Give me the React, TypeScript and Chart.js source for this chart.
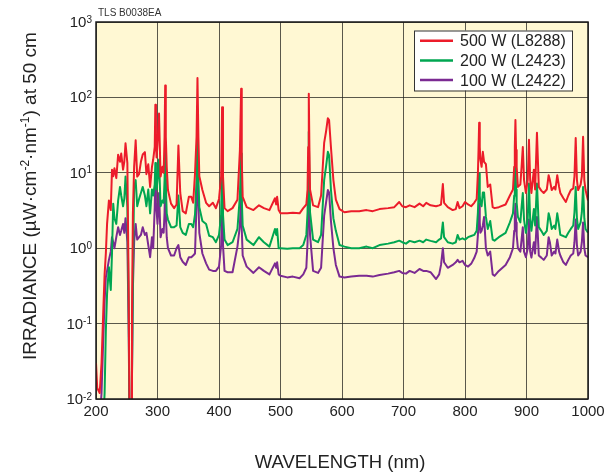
import React, { useEffect, useRef } from 'react';
import { Chart, registerables } from 'chart.js';

Chart.register(...registerables);

// ---- Data ----
const wavelengths = [
  200, 202, 206, 209, 212, 214, 216, 218, 221, 224,
  226, 228, 230, 233, 236, 239, 241, 244, 246, 248,
  251, 253, 254.5, 257, 258.5, 260, 262, 264.5, 267, 270,
  273, 276, 279.5, 282, 285, 288, 291, 293, 295.5, 296.5, 297.5, 298.5,
  300, 302.5, 305, 308, 310, 311.5, 312.5, 313.5, 315, 317, 322, 327,
  331, 334, 337, 341, 346, 351, 355, 358, 361, 363.5, 365, 366.5,
  368, 373, 379, 384, 390, 395, 400, 403.5, 405, 406.5, 409, 414,
  422, 430, 434, 436, 437, 438.5, 445, 456, 465, 473, 482,
  491, 493, 494.5, 497, 500, 511, 520, 531, 537, 542,
  544, 545, 546, 547, 548, 553, 561, 566, 571, 574, 577, 579,
  582, 586, 590, 596, 604, 615, 628, 640, 650, 661,
  675, 685, 693, 698, 704, 710, 718, 726, 732, 737,
  744, 753, 758, 761, 764, 766, 772, 780, 785, 788,
  791, 796, 800, 805, 810, 815, 819, 821, 822, 823, 824, 825,
  827, 829, 831, 834, 837, 841, 845, 848, 855, 866,
  873, 878, 880, 881, 882, 883, 884, 886, 890, 892, 894, 896,
  899, 902, 904, 906, 908, 912, 914, 917, 920, 924,
  928, 933, 936, 938, 941, 945, 947, 950, 953, 955,
  960, 964, 968, 972, 976, 978, 980, 982, 984, 988,
  990, 992, 994, 996, 1000,
];

const irr500W = [
  0.03, 0.014, 0.012, 0.03, 0.16, 0.45, 0.85, 2.1, 4.3, 3.2,
  11, 9, 11.5, 8.5, 17.4, 14, 18, 11, 14, 24.6,
  13.4, 0.37, 0.006, 0.006, 0.13, 2.9, 12, 27, 8.9, 9.6,
  14, 17.5, 18.8, 9.6, 13, 6.5, 12, 15, 22, 80, 25, 16,
  24, 61, 8.9, 12, 10, 30, 144, 30, 12, 5.9, 3.9, 3.4,
  3.8, 23, 5.4, 3.1, 2.9, 4.8, 4.8, 4.0, 9.8, 30, 181, 30,
  9, 5.9, 4.0, 3.6, 4.0, 3.4, 4.5, 9, 74, 9, 3.4, 3.1,
  3.4, 4.4, 20, 130, 16, 4.8, 3.5, 3.2, 3.7, 3.4, 3.2,
  4.6, 3.8, 4.8, 3.2, 2.9, 2.9, 2.95, 2.9, 3.4, 3.8,
  6, 22, 112, 22, 6, 3.7, 3.5, 5, 25, 35, 53, 50,
  22, 8, 4.4, 3.3, 3.0, 3.1, 3.1, 3.2, 3.1, 3.3,
  3.4, 3.5, 4.1, 3.6, 3.5, 3.7, 3.5, 3.9, 3.6, 4.0,
  3.7, 3.6, 3.7, 3.8, 7.1, 4, 3.5, 3.2, 3.3, 4.1,
  3.4, 3.6, 4.1, 3.8, 3.6, 4.0, 4.5, 10, 20, 46, 22, 15,
  12, 19, 14, 13, 6.5, 7, 3.5, 3.4, 3.5, 3.8,
  5, 6, 12, 22, 50, 20, 12, 6.5, 7, 12, 22, 8,
  5.4, 8, 27.5, 8, 5.4, 11, 6, 34, 6.5, 5.8,
  5.4, 6, 9.3, 8, 5.9, 6.5, 6, 9.3, 6.5, 5.4,
  4.6, 4.1, 5, 5.9, 6.2, 9, 29, 8, 5.9, 7,
  9, 30, 8, 5.9, 4.3,
];

const irr200W = [
  0.005, 0.005, 0.005, 0.005, 0.005, 0.012, 0.08, 0.25, 0.56, 0.28,
  0.85, 3.9, 2.5, 2.1, 4.3, 6.5, 5, 3.6, 4.5, 8.9,
  3.5, 0.2, 0.005, 0.005, 0.02, 0.5, 6.5, 8, 3.6, 4.5,
  5.4, 6.5, 5, 3.6, 6, 2.9, 6, 5, 7, 13.5, 8, 6,
  8, 15, 3.6, 4.3, 4, 8, 22, 7, 2.9, 2.4, 1.9, 1.9,
  2.0, 5, 1.9, 1.6, 1.5, 2.1, 2.1, 1.9, 2.8, 8, 35, 8,
  3.5, 2.3, 2.1, 1.46, 1.4, 1.2, 1.5, 2.8, 13, 2.8, 1.3, 1.1,
  1.2, 1.8, 5, 18, 4.5, 2, 1.3, 1.1, 1.4, 1.2, 1.05,
  1.8, 1.5, 1.8, 1.0, 1.0, 0.98, 1.0, 1.0, 1.1, 1.5,
  3, 8, 35, 8, 3, 1.3, 1.2, 1.5, 8, 12, 19, 17,
  6, 2.5, 1.7, 1.1, 1.05, 1.0, 1.0, 1.05, 1.0, 1.1,
  1.15, 1.2, 1.26, 1.2, 1.15, 1.25, 1.2, 1.26, 1.2, 1.3,
  1.25, 1.2, 1.3, 1.35, 2.2, 1.4, 1.2, 1.15, 1.2, 1.5,
  1.3, 1.35, 1.3, 1.4, 1.45, 1.5, 1.7, 3, 5, 9.7, 5, 4,
  3.6, 5.5, 5.5, 2.6, 1.8, 2.3, 1.3, 1.26, 1.4, 1.6,
  2.2, 2.9, 5, 7, 15, 6, 4, 2.6, 2.2, 3.5, 5.4, 2.4,
  1.6, 2.5, 7.2, 2.4, 1.7, 3.3, 2, 7.2, 1.9, 1.7,
  1.5, 1.7, 2.9, 2.5, 1.8, 2, 1.8, 2.9, 2, 1.5,
  1.45, 1.4, 1.6, 1.8, 2, 3, 6.5, 2.5, 1.8, 2.2,
  3, 6.5, 2.5, 1.8, 1.6,
];

const irr100W = [
  0.005, 0.005, 0.005, 0.012, 0.07, 0.2, 0.41, 0.5, 0.7, 0.9,
  1.4, 1.2, 1.0, 1.4, 1.9, 1.5, 1.7, 2.1, 1.6, 2.5,
  1.2, 0.1, 0.005, 0.005, 0.02, 0.3, 1.2, 2.1, 1.3, 1.4,
  1.5, 1.9, 1.5, 1.6, 1.1, 0.76, 1.4, 1.0, 3.5, 8.9, 4, 3.2,
  2.1, 5.4, 1.4, 1.8, 1.6, 3, 8, 3, 1.4, 1.0, 0.8, 0.8,
  1.0, 1.1, 0.76, 0.66, 0.6, 0.76, 0.76, 0.8, 0.85, 4, 17, 4,
  1.6, 0.85, 0.63, 0.52, 0.5, 0.5, 0.57, 1.1, 5, 1.1, 0.5, 0.48,
  0.48, 1.05, 2, 6, 1.8, 0.8, 0.57, 0.47, 0.56, 0.5, 0.45,
  0.63, 0.55, 0.65, 0.45, 0.43, 0.41, 0.42, 0.4, 0.45, 0.55,
  1.2, 3.5, 15, 3.5, 1.5, 0.5, 0.47, 0.55, 2.7, 4, 5.9, 5.5,
  2.3, 1, 0.6, 0.42, 0.41, 0.42, 0.43, 0.43, 0.42, 0.44,
  0.46, 0.48, 0.5, 0.47, 0.46, 0.5, 0.47, 0.53, 0.5, 0.5,
  0.48, 0.39, 0.45, 0.6, 1.0, 0.65, 0.55, 0.6, 0.65, 0.7,
  0.65, 0.68, 0.6, 0.57, 0.62, 0.74, 0.9, 1.5, 2.2, 3.9, 2.2, 1.6,
  1.7, 2.0, 2.6, 1.0, 0.8, 0.9, 0.45, 0.43, 0.5, 0.6,
  0.76, 1.0, 1.7, 2.5, 3.9, 2.2, 1.5, 1.0, 0.9, 1.3, 1.9, 0.9,
  0.76, 1.0, 2.4, 0.9, 0.75, 1.2, 0.85, 2.6, 0.8, 0.75,
  0.7, 0.8, 1.4, 1.2, 0.8, 0.9, 0.85, 1.3, 0.9, 0.8,
  0.65, 0.6, 0.7, 0.8, 0.85, 1.2, 2.4, 1.1, 0.8, 0.9,
  1.2, 2.2, 1.0, 0.8, 0.76,
];

const seriesLabels = ['500 W (L8288)', '200 W (L2423)', '100 W (L2422)'];
const seriesColors = ['#EC1C2A', '#00A651', '#7B2A92'];

const yTickValues = [0.01, 0.1, 1, 10, 100, 1000];
const yTickExponents = ['-2', '-1', '0', '1', '2', '3'];

const docCode = 'TLS B0038EA';
const xTitle = 'WAVELENGTH (nm)';
const yTitleParts = [
  { text: 'IRRADIANCE (µW·cm', sup: false },
  { text: '-2', sup: true },
  { text: '·nm', sup: false },
  { text: '-1', sup: true },
  { text: ') at 50 cm', sup: false },
];

// ---- Styling ----
const FONT = '"Liberation Sans", Arial, Helvetica, sans-serif';
const PLOT_BG = '#FFF8D3';
const GRID = 'rgba(35,35,30,0.75)';
const TEXT = '#222222';

const decorPlugin = {
  id: 'decor',
  beforeDraw(chart: any) {
    const { ctx, chartArea: a } = chart;
    ctx.save();
    ctx.fillStyle = PLOT_BG;
    ctx.fillRect(a.left, a.top, a.right - a.left, a.bottom - a.top);
    ctx.restore();
  },
  afterDraw(chart: any) {
    const { ctx, chartArea: a, scales } = chart;
    ctx.save();

    // plot frame
    ctx.strokeStyle = '#1a1a1a';
    ctx.lineWidth = 1.5;
    ctx.strokeRect(a.left, a.top, a.right - a.left, a.bottom - a.top);

    // y tick labels: 10 with superscript exponent
    const ys = scales.y;
    ctx.fillStyle = TEXT;
    ctx.textBaseline = 'alphabetic';
    ctx.textAlign = 'left';
    const right = a.left - 4;
    yTickValues.forEach((v, i) => {
      const py = ys.getPixelForValue(v);
      const exp = yTickExponents[i];
      ctx.font = `10px ${FONT}`;
      const sw = ctx.measureText(exp).width;
      ctx.font = `15px ${FONT}`;
      const bw = ctx.measureText('10').width;
      ctx.fillText('10', right - sw - bw, py + 5);
      ctx.font = `10px ${FONT}`;
      ctx.fillText(exp, right - sw, py + 0.5);
    });

    // doc code
    ctx.font = `10px ${FONT}`;
    ctx.fillStyle = '#333';
    ctx.fillText(docCode, a.left + 2, 16);

    // x title
    ctx.fillStyle = TEXT;
    ctx.font = `18.5px ${FONT}`;
    ctx.textAlign = 'center';
    ctx.fillText(xTitle, (a.left + a.right) / 2 - 2, 468);

    // y title (rotated, with superscripts)
    ctx.save();
    ctx.translate(35.5, 196);
    ctx.rotate(-Math.PI / 2);
    ctx.textAlign = 'left';
    const mainFont = `19px ${FONT}`;
    const supFont = `12px ${FONT}`;
    let total = 0;
    const widths = yTitleParts.map((p) => {
      ctx.font = p.sup ? supFont : mainFont;
      const w = ctx.measureText(p.text).width;
      total += w;
      return w;
    });
    let x = -total / 2;
    yTitleParts.forEach((p, i) => {
      ctx.font = p.sup ? supFont : mainFont;
      ctx.fillText(p.text, x, p.sup ? -7 : 0);
      x += widths[i];
    });
    ctx.restore();

    // legend box
    const lx = 414, ly = 30.5, lw = 158, lh = 60;
    ctx.fillStyle = '#ffffff';
    ctx.fillRect(lx, ly, lw, lh);
    ctx.strokeStyle = '#333';
    ctx.lineWidth = 1;
    ctx.strokeRect(lx + 0.5, ly + 0.5, lw, lh);
    ctx.font = `16px ${FONT}`;
    ctx.textAlign = 'left';
    ctx.textBaseline = 'middle';
    chart.data.datasets.forEach((ds: any, i: number) => {
      const yy = 40.7 + i * 19.7;
      ctx.strokeStyle = ds.borderColor;
      ctx.lineWidth = 2.5;
      ctx.beginPath();
      ctx.moveTo(420, yy);
      ctx.lineTo(453, yy);
      ctx.stroke();
      ctx.fillStyle = TEXT;
      ctx.fillText(ds.label, 460, yy + 1);
    });

    ctx.restore();
  },
};

export default function App() {
  const ref = useRef<HTMLCanvasElement>(null);

  useEffect(() => {
    const canvas = ref.current;
    if (!canvas) return;
    const mk = (vals: number[]) => wavelengths.map((x, i) => ({ x, y: vals[i] }));
    const seriesValues = [irr500W, irr200W, irr100W];
    const chart = new Chart(canvas, {
      type: 'line',
      data: {
        datasets: seriesValues.map((vals, i) => ({
          label: seriesLabels[i],
          data: mk(vals),
          borderColor: seriesColors[i],
          backgroundColor: seriesColors[i],
          borderWidth: 2,
          borderJoinStyle: 'round',
          pointRadius: 0,
          tension: 0,
          clip: 0,
        })),
      },
      options: {
        responsive: false,
        animation: false,
        devicePixelRatio: 1,
        layout: { padding: { top: 22, right: 26, left: 0, bottom: 0 } },
        plugins: {
          legend: { display: false },
          tooltip: { enabled: false },
        },
        scales: {
          x: {
            type: 'linear',
            min: 200,
            max: 1000,
            ticks: {
              stepSize: 100,
              autoSkip: false,
              maxRotation: 0,
              padding: 4,
              color: TEXT,
              font: { size: 15, family: FONT },
              callback: (v: any) => String(v),
            },
            grid: { color: GRID, lineWidth: 1, drawTicks: false },
            border: { display: false },
            afterFit: (s: any) => {
              s.height = 73;
            },
          },
          y: {
            type: 'logarithmic',
            min: 0.01,
            max: 1000,
            ticks: { display: false },
            grid: { color: GRID, lineWidth: 1, drawTicks: false },
            border: { display: false },
            afterBuildTicks: (s: any) => {
              s.ticks = yTickValues.map((v) => ({ value: v }));
            },
            afterFit: (s: any) => {
              s.width = 96;
            },
          },
        },
      } as any,
      plugins: [decorPlugin],
    });
    return () => chart.destroy();
  }, []);

  return (
    <div style={{ position: 'fixed', left: 0, top: 0, width: 614, height: 472, background: '#ffffff' }}>
      <canvas ref={ref} width={614} height={472} style={{ display: 'block' }} />
    </div>
  );
}
